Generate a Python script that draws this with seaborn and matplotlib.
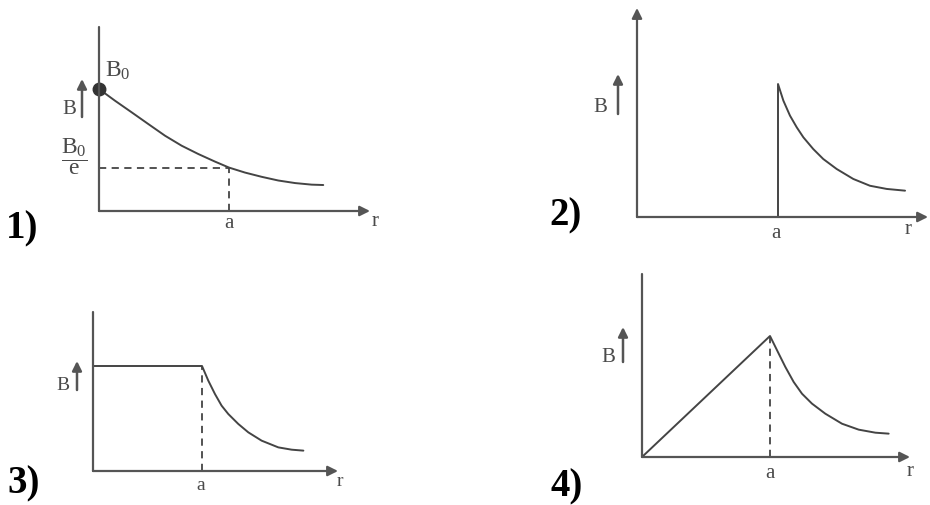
import seaborn as sns
import matplotlib.pyplot as plt
import matplotlib as mpl

# スタイル設定
sns.set_theme(style="white")
plt.rcParams['font.family'] = ['Liberation Serif', 'DejaVu Serif']
plt.rcParams['mathtext.fontset'] = 'custom'
plt.rcParams['mathtext.rm'] = 'Liberation Serif'
plt.rcParams['mathtext.it'] = 'Liberation Serif'

# データ (r は a を 1 とした値, B はピーク値を 1 とした値)
p1_r = [0, 0.123, 0.251, 0.379, 0.508, 0.636, 0.764, 0.892, 1.0,
        1.123, 1.252, 1.379, 1.508, 1.636, 1.725]
p1_B = [1.0, 0.904, 0.809, 0.713, 0.617, 0.535, 0.467, 0.405, 0.356,
        0.315, 0.280, 0.250, 0.229, 0.216, 0.213]
p1_B0_e = 0.356

p2_r = [1.0, 1.0, 1.038, 1.085, 1.133, 1.18, 1.25, 1.321, 1.416,
        1.534, 1.652, 1.771, 1.901]
p2_B = [0.0, 1.0, 0.875, 0.762, 0.674, 0.599, 0.511, 0.436, 0.361,
        0.286, 0.235, 0.211, 0.198]

p3_r = [0, 1.0, 1.058, 1.119, 1.18, 1.241, 1.333, 1.425, 1.547,
        1.70, 1.823, 1.93]
p3_B = [1.0, 1.0, 0.86, 0.733, 0.622, 0.543, 0.448, 0.368, 0.289,
        0.225, 0.203, 0.194]

p4_r = [0, 1.0, 1.055, 1.12, 1.185, 1.25, 1.328, 1.432, 1.5625,
        1.693, 1.823, 1.927]
p4_B = [0, 1.0, 0.882, 0.744, 0.62, 0.523, 0.441, 0.358, 0.275,
        0.226, 0.201, 0.193]

numbers = ["1)", "2)", "3)", "4)"]

W, H = 930, 506
fig = plt.figure(figsize=(W / 100, H / 100), dpi=100)
fig.patch.set_facecolor("white")

AX_C = "#555555"
LINE_C = "#444444"
TXT_C = "#4a4a4a"


def fx(px):
    return px / W


def fy(py):
    return 1 - py / H


def make_ax(ox, oy, right, top, ux, uy, y_arrow=False):
    ax = fig.add_axes([fx(ox), fy(oy), (right - ox) / W, (oy - top) / H])
    ax.set_xlim(0, (right - ox) / ux)
    ax.set_ylim(0, (oy - top) / uy)
    ax.set_axis_off()
    ax.annotate("", xy=(1, 0), xytext=(0, 0), xycoords="axes fraction",
                arrowprops=dict(arrowstyle="-|>", lw=1.6, color=AX_C,
                                mutation_scale=15, shrinkA=0, shrinkB=0),
                annotation_clip=False)
    ax.annotate("", xy=(0, 1), xytext=(0, 0), xycoords="axes fraction",
                arrowprops=dict(arrowstyle="-|>" if y_arrow else "-", lw=1.6,
                                color=AX_C, mutation_scale=15, shrinkA=0, shrinkB=0),
                annotation_clip=False)
    return ax


def curve(ax, r, b):
    sns.lineplot(x=r, y=b, ax=ax, sort=False, estimator=None,
                 color=LINE_C, lw=1.4)


def dashed(ax, xs, ys):
    ax.plot(xs, ys, color=LINE_C, lw=1.3, ls=(0, (4, 3)))


def label(px, py, s, size=15, **kw):
    fig.text(fx(px), fy(py), s, ha="center", va="center", fontsize=size,
             color=TXT_C, **kw)


def b_arrow(px, y0, y1, bx, by, size=15):
    label(bx, by, "B", size=size)
    fig.add_artist(mpl.patches.FancyArrowPatch(
        (fx(px), fy(y1)), (fx(px), fy(y0)), transform=fig.transFigure,
        arrowstyle="-|>", mutation_scale=14, lw=1.8, color=AX_C,
        shrinkA=0, shrinkB=0))


# 1)
ax1 = make_ax(99, 212, 370, 28, 130, 122)
curve(ax1, p1_r, p1_B)
dashed(ax1, [0, 1], [p1_B0_e, p1_B0_e])
dashed(ax1, [1, 1], [0, p1_B0_e])
ax1.plot([p1_r[0]], [p1_B[0]], "o", color="#333333", ms=9, clip_on=False)
label(229, 224, "a")
label(375, 222, "r")
label(118, 71, r"$\mathrm{B_0}$", size=17)
b_arrow(82, 80, 118, 69, 109)
label(74, 157, r"$\dfrac{\mathrm{B_0}}{\mathrm{e}}$", size=17)

# 2)
ax2 = make_ax(637, 218, 928, 9, 141, 133, y_arrow=True)
curve(ax2, p2_r, p2_B)
label(776, 233, "a")
label(908, 230, "r")
b_arrow(618, 75, 115, 600, 108)

# 3)
ax3 = make_ax(93, 472, 338, 313, 109, 105)
curve(ax3, p3_r, p3_B)
dashed(ax3, [1, 1], [0, 1])
label(201, 486, "a", size=14)
label(340, 482, "r", size=14)
b_arrow(77, 362, 391, 63, 386, size=14)

# 4)
ax4 = make_ax(642, 458, 910, 275, 128, 121)
curve(ax4, p4_r, p4_B)
dashed(ax4, [1, 1], [0, 1])
label(770, 474, "a")
label(910, 472, "r")
b_arrow(623, 328, 363, 608, 358)

# 番号
for (px, py), s in zip([(22, 229), (566, 216), (24, 484), (567, 487)], numbers):
    fig.text(fx(px), fy(py), s, ha="center", va="center", fontsize=28,
             fontweight="bold", color="black")

fig.savefig("out.png", dpi=100, facecolor="white")
